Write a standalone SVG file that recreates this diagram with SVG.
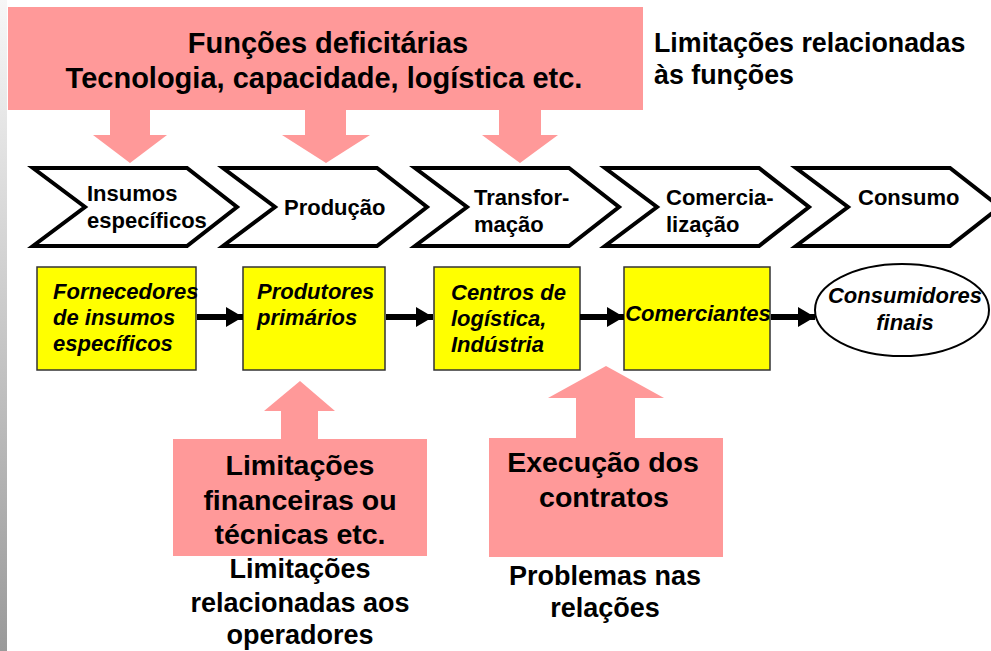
<svg xmlns="http://www.w3.org/2000/svg" width="991" height="651" viewBox="0 0 991 651">
<defs>
<linearGradient id="edge" x1="0" y1="0" x2="0" y2="1">
<stop offset="0" stop-color="#f7f7f7"/>
<stop offset="1" stop-color="#9a9a9a"/>
</linearGradient>
<marker id="ah" markerUnits="userSpaceOnUse" markerWidth="18" markerHeight="20" refX="17" refY="10" orient="auto">
<path d="M0,0 L17,10 L0,20 Z" fill="#000"/>
</marker>
<style>
.pink{fill:#ff9999;stroke:none}
.chev{fill:#fff;stroke:#000;stroke-width:4;stroke-linejoin:miter}
.ybox{fill:#ffff00;stroke:#333;stroke-width:1.5}
.t{font-family:"Liberation Sans",Arial,sans-serif;font-weight:bold;fill:#000}
.i{font-style:italic}
.c{text-anchor:middle}
.conn{stroke:#000;stroke-width:6;fill:none}
</style>
</defs>
<rect x="0" y="0" width="991" height="651" fill="#fff"/>
<rect x="0" y="0" width="7" height="651" fill="url(#edge)"/>

<g id="funcoes-deficitarias">
<rect class="pink" x="8" y="7" width="635" height="103"/>
<polygon class="pink" points="110,109 150,109 150,135 167,135 130,163 93,135 110,135"/>
<polygon class="pink" points="305,109 346,109 346,135 370,135 326,163 282,135 305,135"/>
<polygon class="pink" points="499,109 541,109 541,135 558,135 520,163 482,135 499,135"/>
<text class="t c" x="328" y="53" font-size="29">Funções deficitárias</text>
<text class="t c" x="324" y="88" font-size="29">Tecnologia, capacidade, logística etc.</text>
</g>

<g id="limitacoes-funcoes">
<text class="t" x="654" y="52" font-size="26.8">Limitações relacionadas</text>
<text class="t" x="654" y="84" font-size="26.8">às funções</text>
</g>

<g id="chev-insumos">
<polygon class="chev" points="33,168 187,168 237,207 187,246 33,246 85,207"/>
<text class="t" x="87" y="201" font-size="22">Insumos</text>
<text class="t" x="87" y="228" font-size="22">específicos</text>
</g>
<g id="chev-producao">
<polygon class="chev" points="223,168 377,168 427,207 377,246 223,246 275,207"/>
<text class="t" x="284" y="215" font-size="22">Produção</text>
</g>
<g id="chev-transformacao">
<polygon class="chev" points="415,168 569,168 619,207 569,246 415,246 467,207"/>
<text class="t" x="474" y="205" font-size="22">Transfor-</text>
<text class="t" x="474" y="232" font-size="22">mação</text>
</g>
<g id="chev-comercializacao">
<polygon class="chev" points="605,168 759,168 809,207 759,246 605,246 657,207"/>
<text class="t" x="666" y="205" font-size="22">Comercia-</text>
<text class="t" x="666" y="232" font-size="22">lização</text>
</g>
<g id="chev-consumo">
<polygon class="chev" points="796,168 950,168 1000,207 950,246 796,246 848,207"/>
<text class="t" x="858" y="205" font-size="22">Consumo</text>
</g>

<g id="fornecedores">
<rect class="ybox" x="37" y="267" width="159" height="103"/>
<text class="t i" x="53" y="299" font-size="22">Fornecedores</text>
<text class="t i" x="53" y="325" font-size="22">de insumos</text>
<text class="t i" x="53" y="351" font-size="22">específicos</text>
</g>
<g id="produtores">
<rect class="ybox" x="243" y="267" width="142" height="103"/>
<text class="t i" x="257" y="299" font-size="22">Produtores</text>
<text class="t i" x="257" y="325" font-size="22">primários</text>
</g>
<g id="centros">
<rect class="ybox" x="434" y="267" width="146" height="103"/>
<text class="t i" x="451" y="300" font-size="22">Centros de</text>
<text class="t i" x="451" y="326" font-size="22">logística,</text>
<text class="t i" x="451" y="352" font-size="22">Indústria</text>
</g>
<g id="comerciantes">
<rect class="ybox" x="624" y="267" width="146" height="103"/>
<text class="t i c" x="698" y="321" font-size="22">Comerciantes</text>
</g>
<g id="consumidores">
<ellipse cx="902" cy="310" rx="87" ry="46" fill="#fff" stroke="#000" stroke-width="2"/>
<text class="t i c" x="905" y="303" font-size="22">Consumidores</text>
<text class="t i c" x="905" y="330" font-size="22">finais</text>
</g>

<g id="connectors">
<line class="conn" x1="197" y1="317" x2="243" y2="317" marker-end="url(#ah)"/>
<line class="conn" x1="386" y1="317" x2="433" y2="317" marker-end="url(#ah)"/>
<line class="conn" x1="580" y1="317" x2="624" y2="317" marker-end="url(#ah)"/>
<line class="conn" x1="771" y1="317" x2="815" y2="317" marker-end="url(#ah)"/>
</g>

<g id="limitacoes-financeiras">
<polygon class="pink" points="300,381 335,411 318,411 318,440 281,440 281,411 264,411"/>
<rect class="pink" x="173" y="439" width="254" height="117"/>
<text class="t c" x="300" y="475" font-size="28.5">Limitações</text>
<text class="t c" x="300" y="510" font-size="28.5">financeiras ou</text>
<text class="t c" x="300" y="544" font-size="28.5">técnicas etc.</text>
</g>
<g id="limitacoes-operadores">
<text class="t c" x="300" y="578" font-size="27">Limitações</text>
<text class="t c" x="300" y="612" font-size="27">relacionadas aos</text>
<text class="t c" x="300" y="644" font-size="27">operadores</text>
</g>

<g id="execucao-contratos">
<polygon class="pink" points="606,366 664,398 635,398 635,439 576,439 576,398 548,398"/>
<rect class="pink" x="489" y="438" width="234" height="119"/>
<text class="t c" x="603" y="472" font-size="28.5">Execução dos</text>
<text class="t c" x="604" y="507" font-size="28.5">contratos</text>
</g>
<g id="problemas-relacoes">
<text class="t c" x="605" y="585" font-size="27">Problemas nas</text>
<text class="t c" x="605" y="617" font-size="27">relações</text>
</g>
</svg>
